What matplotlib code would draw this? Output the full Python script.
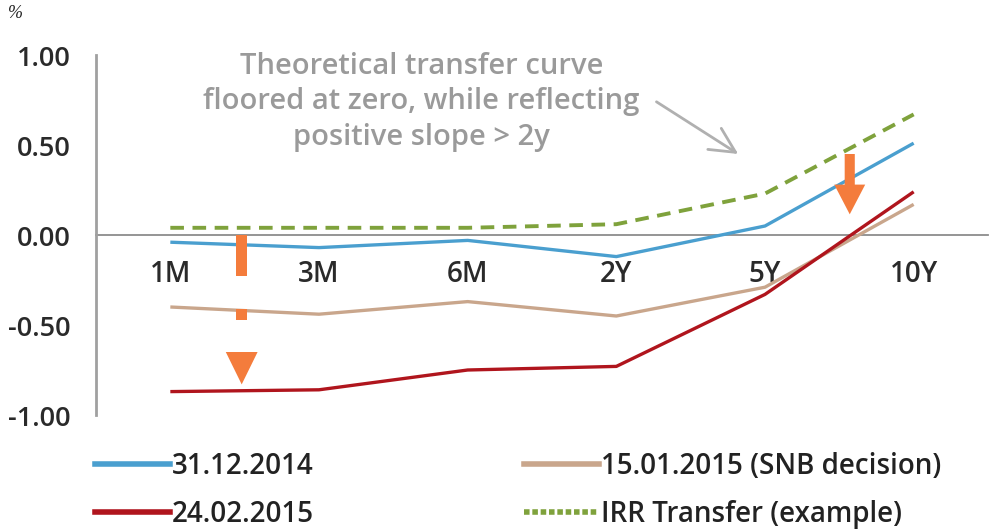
import matplotlib
matplotlib.use("Agg")
import matplotlib.pyplot as plt
from matplotlib.patches import Polygon
from matplotlib.lines import Line2D

categories = ['1M', '3M', '6M', '2Y', '5Y', '10Y']
curve_2014_12_31 = [-0.04, -0.07, -0.03, -0.12, 0.05, 0.51]
curve_2015_01_15 = [-0.40, -0.44, -0.37, -0.45, -0.29, 0.17]
curve_2015_02_24 = [-0.87, -0.86, -0.75, -0.73, -0.33, 0.24]
irr_transfer = [0.04, 0.04, 0.04, 0.06, 0.23, 0.67]
y_ticks = [1.0, 0.5, 0.0, -0.5, -1.0]
y_ticklabels = ['1.00', '0.50', '0.00', '-0.50', '-1.00']

BLUE = '#4a9fcf'
TAN = '#c9a68c'
RED = '#b0151d'
GREEN = '#7fa23c'
ORANGE = '#f47c3c'
GRAY = '#9a9a9a'

plt.rcParams['font.family'] = ['Open Sans', 'DejaVu Sans']
plt.rcParams['font.weight'] = 'semibold'

fig = plt.figure(figsize=(9.9, 5.32), dpi=100)
ax = fig.add_axes([96/990, 117/532, 892/990, 360/532])
x = list(range(len(categories)))

ax.plot(x, curve_2014_12_31, color=BLUE, lw=2.4, solid_capstyle='butt', zorder=3)
ax.plot(x, curve_2015_01_15, color=TAN, lw=2.4, solid_capstyle='butt', zorder=3)
ax.plot(x, curve_2015_02_24, color=RED, lw=2.4, solid_capstyle='butt', zorder=3)
ax.plot(x, irr_transfer, color=GREEN, lw=2.8, dashes=(3.5, 2.2), zorder=5)

ax.set_xlim(-0.5, len(categories) - 0.5)
ax.set_ylim(-1.0, 1.0)
ax.set_yticks(y_ticks)
ax.set_yticklabels(y_ticklabels)
ax.set_xticks(x)
ax.set_xticklabels(categories)
ax.tick_params(axis='y', length=0, pad=18, labelsize=19.5, labelcolor='#2a2a2a')
ax.tick_params(axis='x', length=0, pad=18, labelsize=20, labelcolor='#2a2a2a')
for s in ['top', 'right']:
    ax.spines[s].set_visible(False)
ax.spines['bottom'].set_position(('data', 0))
ax.spines['bottom'].set_color('#8c8c8c')
ax.spines['bottom'].set_linewidth(1.3)
ax.spines['bottom'].set_zorder(2)
ax.spines['left'].set_color('#a0a0a0')
ax.spines['left'].set_linewidth(2.0)

def add_poly(pts):
    ax.add_patch(Polygon(pts, closed=True, color=ORANGE, zorder=4, lw=0))

xa = 0.48
hw_s, hw_h = 0.037, 0.107
add_poly([(xa-hw_s, 0.0), (xa+hw_s, 0.0), (xa+hw_s, -0.23), (xa-hw_s, -0.23)])
add_poly([(xa-hw_s, -0.41), (xa+hw_s, -0.41), (xa+hw_s, -0.47), (xa-hw_s, -0.47)])
add_poly([(xa-hw_h, -0.65), (xa+hw_h, -0.65), (xa, -0.83)])

xb = 4.57
add_poly([(xb-0.034, 0.45), (xb+0.034, 0.45), (xb+0.034, 0.28), (xb+0.104, 0.28),
          (xb, 0.115), (xb-0.104, 0.28), (xb-0.034, 0.28)])

ax.text(1.69, 0.74, 'Theoretical transfer curve\nfloored at zero, while reflecting\npositive slope > 2y',
        ha='center', va='center', color=GRAY, fontsize=21, linespacing=1.3, zorder=6)
ax.annotate('', xy=(3.82, 0.45), xytext=(3.27, 0.74),
            arrowprops=dict(arrowstyle='->,head_length=0.9,head_width=0.45',
                            color='#b0b0b0', lw=2.0, mutation_scale=20, shrinkA=0, shrinkB=0),
            zorder=6)

fig.text(8/990, 1 - 13/532, '%', fontsize=13, style='italic', family='Liberation Serif',
         weight='normal', va='center', ha='left', color='#222222')

handles = [Line2D([], [], color=BLUE, lw=4),
           Line2D([], [], color=RED, lw=4),
           Line2D([], [], color=TAN, lw=4),
           Line2D([], [], color=GREEN, lw=4, dashes=(1.0, 0.5))]
labels = ['31.12.2014', '24.02.2015', '15.01.2015 (SNB decision)', 'IRR Transfer (example)']
fig.legend(handles, labels, ncol=2, loc='upper left', bbox_to_anchor=(95/990, 1 - 452/532),
           frameon=False, fontsize=20, handlelength=2.7, handletextpad=0.08,
           columnspacing=7.55, labelspacing=0.68, borderpad=0, borderaxespad=0,
           labelcolor='#222222')

fig.savefig('out.png', dpi=100)
